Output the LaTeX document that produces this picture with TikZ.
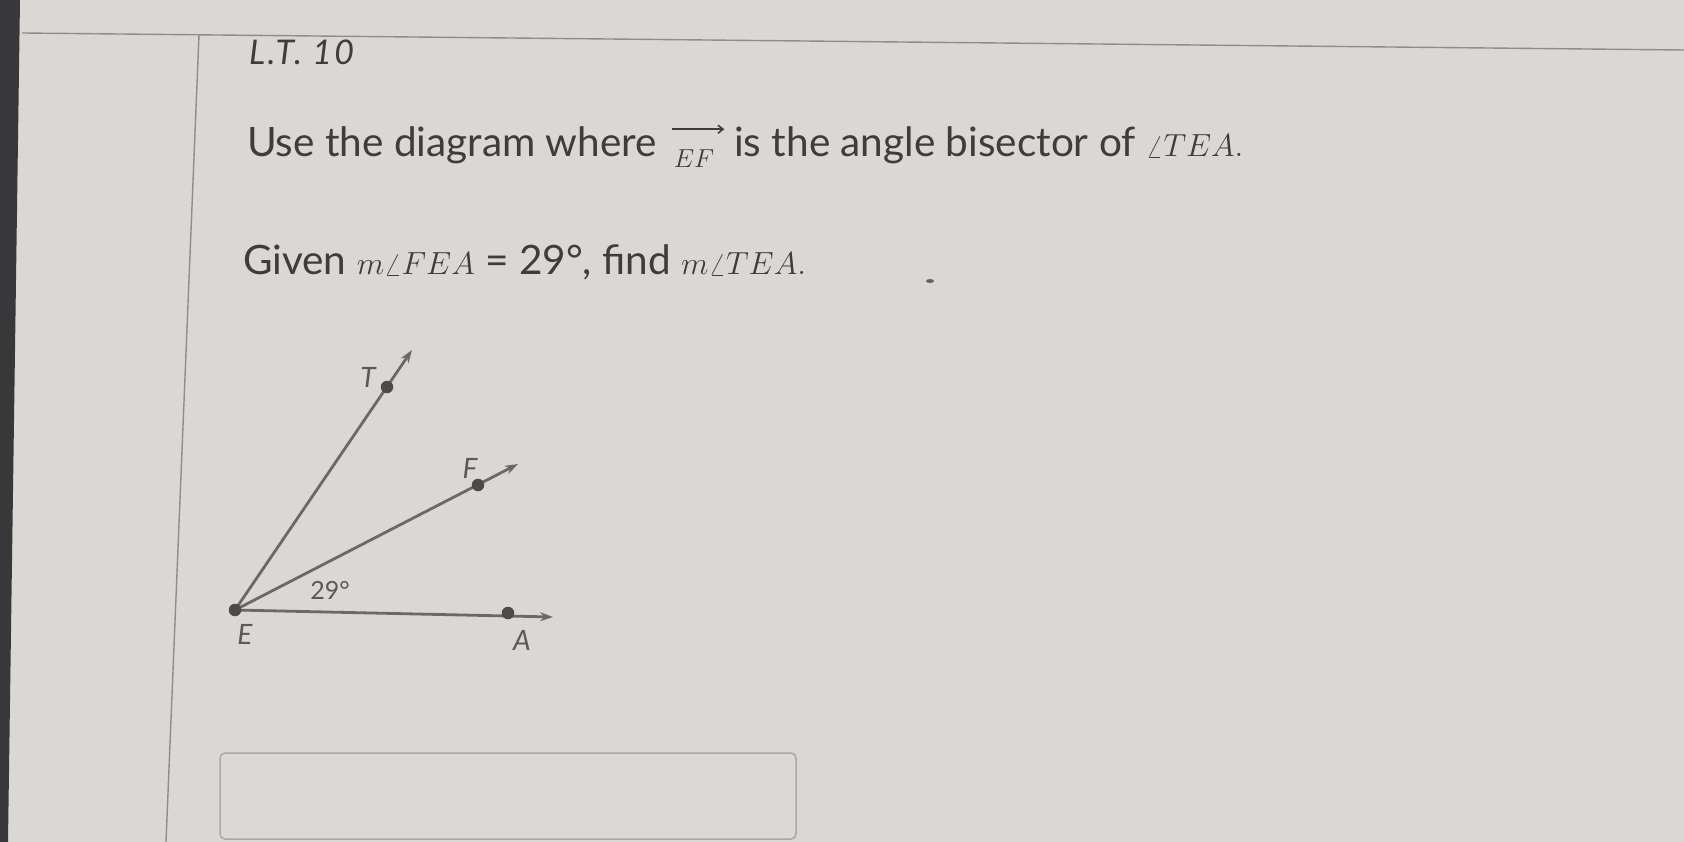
\RequirePackage{fix-cm}
\documentclass[tikz,border=0pt]{standalone}
\usepackage{fontspec}
\setmainfont{Lato}
\usetikzlibrary{arrows.meta,calc,backgrounds}
\definecolor{bg}{HTML}{DAD7D4}
\definecolor{ink}{HTML}{3E3D3C}
\definecolor{rayc}{HTML}{6A6968}
\definecolor{dotc}{HTML}{4C4B4A}
\definecolor{rulec}{HTML}{8F8D8B}
\definecolor{strip}{HTML}{38383A}
\definecolor{boxc}{HTML}{ABA9A7}
\definecolor{lblc}{HTML}{5A5958}
\newcommand{\mathsz}{\fontsize{32}{35}\selectfont}
\begin{document}
\begin{tikzpicture}[x=1pt,y=-1pt,
  txt/.style={inner sep=0pt,outer sep=0pt,text=ink,anchor=base west},
  big/.style={txt,font=\fontsize{40.5}{44}\selectfont},
  dotnode/.style={circle,fill=dotc,inner sep=0pt,minimum size=12.5pt},
  ray/.style={draw=rayc,line width=2.8pt,-{Stealth[length=13pt,width=9pt]}},
  lbl/.style={inner sep=0pt,text=lblc,font=\fontsize{28}{30}\selectfont\itshape},
  answerbox/.style={draw=boxc,line width=1.5pt,rounded corners=5pt,fill=bg!97!white,inner sep=0pt,minimum width=576pt,minimum height=86pt}]
\useasboundingbox (0,0) rectangle (1684,842);
% page frame
\begin{scope}[on background layer]
\fill[bg] (0,0) rectangle (1684,842);
\fill[strip] (0,0) -- (20,0) -- (8,842) -- (0,842) -- cycle;
\draw[rulec,line width=1.4pt] (22,33) -- (1684,50);
\draw[rulec,line width=1.4pt] (199,35) -- (166,842);
\end{scope}
% title
\node[txt,font=\fontsize{34}{36}\selectfont\itshape\addfontfeatures{LetterSpace=7}] (lt) at (249,65) {L.T. 10};
% line 1
\node[big] (l1a) at (247,157) {Use the diagram where};
\node[txt,font=\fontsize{26}{28}\selectfont] (ef) at ($(l1a.base east)+(17,11)$) {$EF$};
\coordinate (efs) at ($(ef.north west)+(-2,-21)$);
\coordinate (efe) at ($(ef.north east)+(10,-21)$);
\draw[ink,line width=1.6pt,-{Straight Barb[length=5pt,width=8pt]}] (efs) -- (efe);
\node[big] (l1b) at ($(ef.base east)+(20,-11)$) {is the angle bisector of {\mathsz$\angle TEA.$}};
% line 2
\node[big] (l2) at (243,275) {Given {\mathsz$m\angle FEA$} = 29°, find {\mathsz$m\angle TEA.$}};
\fill[ink!80] (930,281) ellipse (4pt and 2pt);
% diagram
\coordinate (Tt) at (412,350);
\coordinate (Ft) at (518,464);
\coordinate (At) at (553,617);
\node[dotnode] (E) at (235,610) {};
\node[dotnode] (T) at (387,387) {};
\node[dotnode] (F) at (478,485) {};
\node[dotnode] (A) at (508,613) {};
\begin{scope}[on background layer]
\draw[ray] (E.center) -- (Tt);
\draw[ray] (E.center) -- (Ft);
\draw[ray] (E.center) -- (At);
\end{scope}
\node[lbl] (Tl) at (368,377) {T};
\node[lbl] (Fl) at (470,468) {F};
\node[lbl] (El) at (245,634) {E};
\node[lbl] (Al) at (522,640) {A};
\node[inner sep=0pt,text=lblc,font=\fontsize{25}{27}\selectfont] (ang) at (330,590) {29°};
% answer box
\node[answerbox] (ans) at (508,796) {};
\end{tikzpicture}
\end{document}
